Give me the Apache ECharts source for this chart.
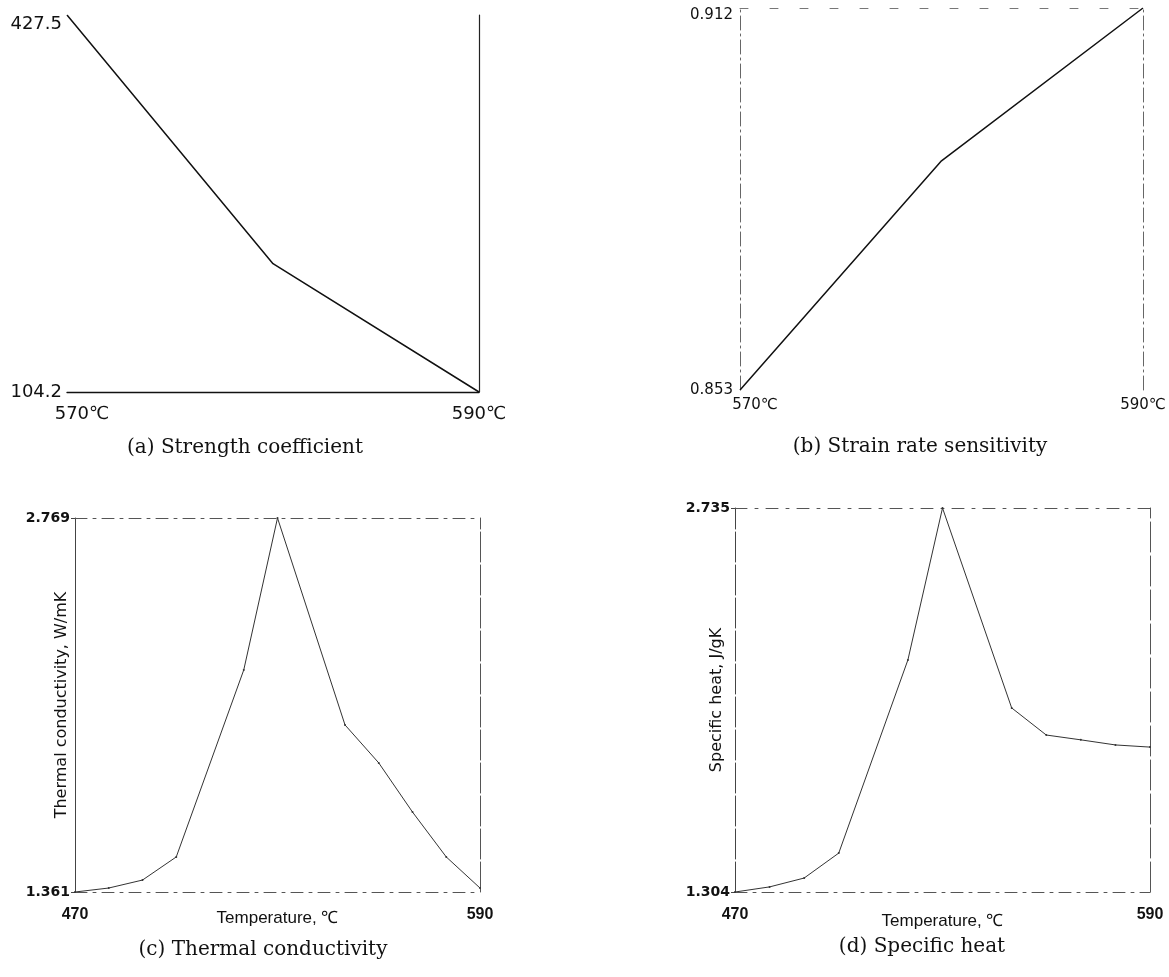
<!DOCTYPE html>
<html>
<head>
<meta charset="utf-8">
<script src="https://cdn.jsdelivr.net/npm/echarts@6.0.0/dist/echarts.min.js"></script>
<style>
html,body{margin:0;padding:0;background:#fff;}
#chart{width:1169px;height:977px;}
</style>
</head>
<body>
<div id="chart"></div>
<script>
// ---- data ----
const tempA = [570, 580, 590];
const strengthA = [427.5, 214.2, 104.2];
const xTicksA = [570, 590];
const yTicksA = [104.2, 427.5];

const tempB = [570, 580, 590];
const strainB = [0.853, 0.8884, 0.912];
const xTicksB = [570, 590];
const yTicksB = [0.853, 0.912];

const tempCD = [470, 480, 490, 500, 520, 530, 550, 560, 570, 580, 590];
const thermalC = [1.361, 1.376, 1.406, 1.493, 2.197, 2.769, 1.990, 1.847, 1.662, 1.493, 1.376];
const specificD = [1.304, 1.323, 1.356, 1.449, 2.169, 2.735, 1.990, 1.889, 1.871, 1.852, 1.844];
const xTicksCD = [470, 590];
const yTicksC = [1.361, 2.769];
const yTicksD = [1.304, 2.735];

const captions = ['(a) Strength coefficient', '(b) Strain rate sensitivity', '(c) Thermal conductivity', '(d) Specific heat'];
const xNameCD = 'Temperature, \u2103';
const yNameC = 'Thermal conductivity, W/mK';
const yNameD = 'Specific heat, J/gK';

// ---- chart ----
const SANS = 'DejaVu Sans';
function pts(xs, ys) { return xs.map((x, i) => [x, ys[i]]); }

const chart = echarts.init(document.getElementById('chart'), null, {renderer: 'canvas'});

function degLabel(minV, size, pad) {
  return {
    fontFamily: SANS, fontSize: size, color: '#111',
    formatter: v => (v === minV ? '{s|' + v + '\u2103}' : '{n|' + v + '\u2103}'),
    rich: {
      s: {fontFamily: SANS, fontSize: size, color: '#111', padding: [0, 0, 0, pad]},
      n: {fontFamily: SANS, fontSize: size, color: '#111'}
    }
  };
}

const option = {
  backgroundColor: '#fff',
  animation: false,
  grid: [
    {left: 67, top: 15, width: 412, height: 377},
    {left: 740, top: 8, width: 403, height: 382},
    {left: 75, top: 518, width: 405, height: 374},
    {left: 735, top: 508, width: 415, height: 384}
  ],
  xAxis: [
    // (a)
    {gridIndex: 0, type: 'value', min: 570, max: 590,
      axisLine: {show: true, lineStyle: {color: '#111', width: 1.3}},
      axisTick: {show: false}, splitLine: {show: false},
      axisLabel: Object.assign({customValues: xTicksA, margin: 13}, degLabel(570, 18, 30))},
    // (b)
    {gridIndex: 1, type: 'value', min: 570, max: 590,
      axisLine: {show: false}, axisTick: {show: false}, splitLine: {show: false},
      axisLabel: Object.assign({customValues: xTicksB, margin: 8}, degLabel(570, 15, 30))},
    {gridIndex: 1, type: 'value', position: 'top', min: 570, max: 590,
      axisLine: {show: true, lineStyle: {color: '#777', width: 1, type: [8, 22]}},
      axisTick: {show: false}, splitLine: {show: false}, axisLabel: {show: false}},
    // (c)
    {gridIndex: 2, type: 'value', min: 470, max: 590,
      axisLine: {show: true, lineStyle: {color: '#555', width: 1, type: [12, 6, 3, 6]}},
      axisTick: {show: false}, splitLine: {show: false},
      axisLabel: {customValues: xTicksCD, margin: 15, fontFamily: 'Liberation Sans', fontWeight: 'bold', fontSize: 16, color: '#111'},
      name: xNameCD, nameLocation: 'middle', nameGap: 18, nameMoveOverlap: false,
      nameTextStyle: {fontFamily: 'Liberation Sans', fontSize: 17, color: '#111'}},
    {gridIndex: 2, type: 'value', position: 'top', min: 470, max: 590,
      axisLine: {show: true, lineStyle: {color: '#555', width: 1, type: [12, 6, 3, 6]}},
      axisTick: {show: false}, splitLine: {show: false}, axisLabel: {show: false}},
    // (d)
    {gridIndex: 3, type: 'value', min: 470, max: 590,
      axisLine: {show: true, lineStyle: {color: '#555', width: 1, type: [12, 6, 3, 6]}},
      axisTick: {show: false}, splitLine: {show: false},
      axisLabel: {customValues: xTicksCD, margin: 15, fontFamily: 'Liberation Sans', fontWeight: 'bold', fontSize: 16, color: '#111'},
      name: xNameCD, nameLocation: 'middle', nameGap: 21, nameMoveOverlap: false,
      nameTextStyle: {fontFamily: 'Liberation Sans', fontSize: 17, color: '#111'}},
    {gridIndex: 3, type: 'value', position: 'top', min: 470, max: 590,
      axisLine: {show: true, lineStyle: {color: '#555', width: 1, type: [12, 8, 3, 8]}},
      axisTick: {show: false}, splitLine: {show: false}, axisLabel: {show: false}}
  ],
  yAxis: [
    // (a) 0,1
    {gridIndex: 0, type: 'value', min: 104.2, max: 427.5,
      axisLine: {show: false}, axisTick: {show: false}, splitLine: {show: false},
      axisLabel: {customValues: yTicksA, margin: 5, fontFamily: SANS, fontSize: 18, color: '#111', verticalAlignMaxLabel: 'top'}},
    {gridIndex: 0, type: 'value', position: 'right', min: 104.2, max: 427.5,
      axisLine: {show: true, lineStyle: {color: '#222', width: 1.2}},
      axisTick: {show: false}, splitLine: {show: false}, axisLabel: {show: false}},
    // (b) 2,3
    {gridIndex: 1, type: 'value', min: 0.853, max: 0.912,
      axisLine: {show: true, lineStyle: {color: '#666', width: 1, type: [14, 4, 2, 4]}},
      axisTick: {show: false}, splitLine: {show: false},
      axisLabel: {customValues: yTicksB, margin: 7, fontFamily: SANS, fontSize: 15, color: '#111', verticalAlignMaxLabel: 'top'}},
    {gridIndex: 1, type: 'value', position: 'right', min: 0.853, max: 0.912,
      axisLine: {show: true, lineStyle: {color: '#666', width: 1, type: [14, 4, 2, 4]}},
      axisTick: {show: false}, splitLine: {show: false}, axisLabel: {show: false}},
    // (c) 4,5
    {gridIndex: 2, type: 'value', min: 1.361, max: 2.769,
      axisLine: {show: true, lineStyle: {color: '#444', width: 1}},
      axisTick: {show: true, customValues: yTicksC, length: 4, lineStyle: {color: '#444'}},
      splitLine: {show: false},
      axisLabel: {customValues: yTicksC, margin: 5, fontFamily: SANS, fontWeight: 'bold', fontSize: 14, color: '#111'},
      name: yNameC, nameLocation: 'middle', nameGap: 5, nameRotate: 90, nameMoveOverlap: false,
      nameTextStyle: {fontFamily: SANS, fontSize: 16, color: '#111', verticalAlign: 'bottom'}},
    {gridIndex: 2, type: 'value', position: 'right', min: 1.361, max: 2.769,
      axisLine: {show: true, lineStyle: {color: '#555', width: 1, type: [30, 3]}},
      axisTick: {show: false}, splitLine: {show: false}, axisLabel: {show: false}},
    // (d) 6,7
    {gridIndex: 3, type: 'value', min: 1.304, max: 2.735,
      axisLine: {show: true, lineStyle: {color: '#444', width: 1, type: [30, 3]}},
      axisTick: {show: true, customValues: yTicksD, length: 4, lineStyle: {color: '#444'}},
      splitLine: {show: false},
      axisLabel: {customValues: yTicksD, margin: 5, fontFamily: SANS, fontWeight: 'bold', fontSize: 14, color: '#111'},
      name: yNameD, nameLocation: 'middle', nameGap: 10, nameRotate: 90, nameMoveOverlap: false,
      nameTextStyle: {fontFamily: SANS, fontSize: 16, color: '#111', verticalAlign: 'bottom'}},
    {gridIndex: 3, type: 'value', position: 'right', min: 1.304, max: 2.735,
      axisLine: {show: true, lineStyle: {color: '#555', width: 1, type: [30, 4]}},
      axisTick: {show: false}, splitLine: {show: false}, axisLabel: {show: false}}
  ],
  series: [
    {type: 'line', xAxisIndex: 0, yAxisIndex: 0, data: pts(tempA, strengthA),
      symbol: 'none', lineStyle: {color: '#111', width: 1.5}},
    {type: 'line', xAxisIndex: 1, yAxisIndex: 2, data: pts(tempB, strainB),
      symbol: 'none', lineStyle: {color: '#111', width: 1.5}},
    {type: 'line', xAxisIndex: 3, yAxisIndex: 4, data: pts(tempCD, thermalC),
      symbol: 'circle', symbolSize: 2, itemStyle: {color: '#333'},
      lineStyle: {color: '#333', width: 1}},
    {type: 'line', xAxisIndex: 5, yAxisIndex: 6, data: pts(tempCD, specificD),
      symbol: 'circle', symbolSize: 2, itemStyle: {color: '#333'},
      lineStyle: {color: '#333', width: 1}}
  ],
  graphic: [
    {type: 'text', x: 245, y: 448, style: {text: captions[0], font: '20px "DejaVu Serif"', fill: '#111', align: 'center', verticalAlign: 'middle'}},
    {type: 'text', x: 920, y: 447, style: {text: captions[1], font: '20px "DejaVu Serif"', fill: '#111', align: 'center', verticalAlign: 'middle'}},
    {type: 'text', x: 263, y: 950, style: {text: captions[2], font: '20px "DejaVu Serif"', fill: '#111', align: 'center', verticalAlign: 'middle'}},
    {type: 'text', x: 922, y: 947, style: {text: captions[3], font: '20px "DejaVu Serif"', fill: '#111', align: 'center', verticalAlign: 'middle'}}
  ]
};
chart.setOption(option);
</script>
</body>
</html>
